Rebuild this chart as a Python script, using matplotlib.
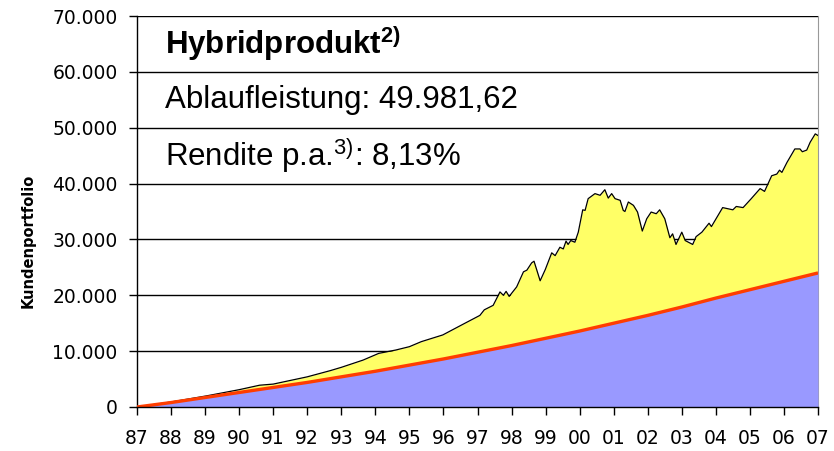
"""Hybridprodukt: Kundenportfolio 1987-2007 (Ablaufleistung vs. Einzahlungen)."""

import matplotlib
matplotlib.use("Agg")
import matplotlib.pyplot as plt
from matplotlib.ticker import FuncFormatter

plt.rcParams.update({
    "font.family": "DejaVu Sans",
    "mathtext.fontset": "custom",
    "mathtext.rm": "Liberation Sans",
    "mathtext.bf": "Liberation Sans:bold",
})

YELLOW = "#FFFF66"
BLUE = "#9999FF"
RED = "#FF3D00"

# portfolio value, year as decimal
port_years = [
    1987.0, 1988.0, 1989.05, 1990.0, 1990.6, 1991.0, 1992.0, 1992.67, 1993.0,
    1993.64, 1994.1, 1994.6, 1995.0, 1995.35, 1995.98, 1996.57, 1997.07,
    1997.2, 1997.46, 1997.66, 1997.76, 1997.84, 1997.93, 1998.15, 1998.35,
    1998.45, 1998.59, 1998.66, 1998.84, 1998.99, 1999.18, 1999.28, 1999.42,
    1999.52, 1999.6, 1999.66, 1999.74, 1999.86, 1999.96, 2000.09, 2000.16,
    2000.25, 2000.45, 2000.6, 2000.74, 2000.84, 2000.94, 2001.04, 2001.19,
    2001.28, 2001.33, 2001.43, 2001.58, 2001.7, 2001.84, 2001.97, 2002.1,
    2002.25, 2002.35, 2002.5, 2002.65, 2002.73, 2002.83, 2003.0, 2003.1,
    2003.32, 2003.42, 2003.59, 2003.8, 2003.87, 2004.2, 2004.5, 2004.6,
    2004.8, 2005.04, 2005.3, 2005.43, 2005.64, 2005.79, 2005.87, 2005.94,
    2006.09, 2006.32, 2006.47, 2006.54, 2006.67, 2006.77, 2006.92, 2007.0,
]
port_values = [
    0, 900, 2000, 3100, 3900, 4100, 5400, 6500, 7100,
    8400, 9600, 10200, 10800, 11700, 12900, 14800, 16400,
    17400, 18200, 20600, 20000, 20700, 19800, 21500, 24200,
    24500, 25800, 26100, 22600, 24600, 27600, 27100, 28600,
    28300, 29700, 29100, 29800, 29500, 31300, 35300, 35200,
    37300, 38200, 37900, 38900, 37400, 38200, 37300, 37000,
    35200, 35000, 36700, 36100, 34900, 31500, 33700, 34900,
    34600, 35300, 33700, 30300, 31000, 29100, 31300, 29800,
    29100, 30500, 31300, 32900, 32300, 35700, 35300, 35900,
    35700, 37300, 39100, 38600, 41400, 41700, 42400, 42000,
    43800, 46200, 46200, 45700, 46000, 47400, 48900, 48600,
]

# paid-in contributions, yearly
contrib_years = list(range(1987, 2008))
contrib_values = [
    0, 800, 1700, 2600, 3500, 4400, 5400, 6400, 7500, 8600, 9800,
    11000, 12300, 13600, 15000, 16400, 17900, 19500, 21000, 22500, 24000,
]

year_labels = [f"{y % 100:02d}" for y in contrib_years]

fig = plt.figure(figsize=(8.34, 4.51), dpi=100)
ax = fig.add_axes([137 / 834, 44 / 451, 681 / 834, 391 / 451])

ax.fill_between(port_years, port_values, color=YELLOW, lw=0, zorder=2)
ax.plot(port_years, port_values, color="black", lw=0.9, zorder=3)
ax.fill_between(contrib_years, contrib_values, color=BLUE, lw=0, zorder=4)
ax.plot(contrib_years, contrib_values, color=RED, lw=2.4, zorder=5,
        solid_capstyle="butt")

ax.set_xlim(1987, 2007)
ax.set_ylim(0, 70000)
ax.set_xticks(contrib_years)
ax.set_xticklabels(year_labels)
ax.set_yticks(range(0, 70001, 10000))
ax.yaxis.set_major_formatter(
    FuncFormatter(lambda v, _: f"{int(v):,}".replace(",", ".")))
ax.grid(axis="y", color="black", lw=1.0, zorder=1)
ax.set_axisbelow(True)

ax.tick_params(axis="x", length=6, width=1, pad=10, labelsize=13.5,
               colors="black")
ax.tick_params(axis="y", length=6, width=1, pad=8, labelsize=13.5)
ax.spines["top"].set_visible(False)
ax.spines["right"].set_color("#999999")
ax.spines["left"].set_linewidth(1.0)
ax.spines["bottom"].set_linewidth(1.0)
ax.spines["bottom"].set_zorder(6)

fig.text(28 / 834, 1 - 241 / 451, "Kundenportfolio", rotation=90,
         ha="center", va="center", fontsize=10.5, fontweight="bold")

tx = 1987.82
ax.text(tx, 65000, r"Hybridprodukt$^{\mathbf{2)}}$", family="Liberation Sans",
        fontweight="bold", fontsize=22.5, va="center", ha="left", zorder=7)
ax.text(tx, 55000, "Ablaufleistung: 49.981,62", family="Liberation Sans",
        fontsize=22.5, va="center", ha="left", zorder=7)
ax.text(tx, 45000, r"Rendite p.a.$^{3)}$: 8,13%", family="Liberation Sans",
        fontsize=22.5, va="center", ha="left", zorder=7)

fig.savefig("out.png", dpi=100, facecolor="white")
